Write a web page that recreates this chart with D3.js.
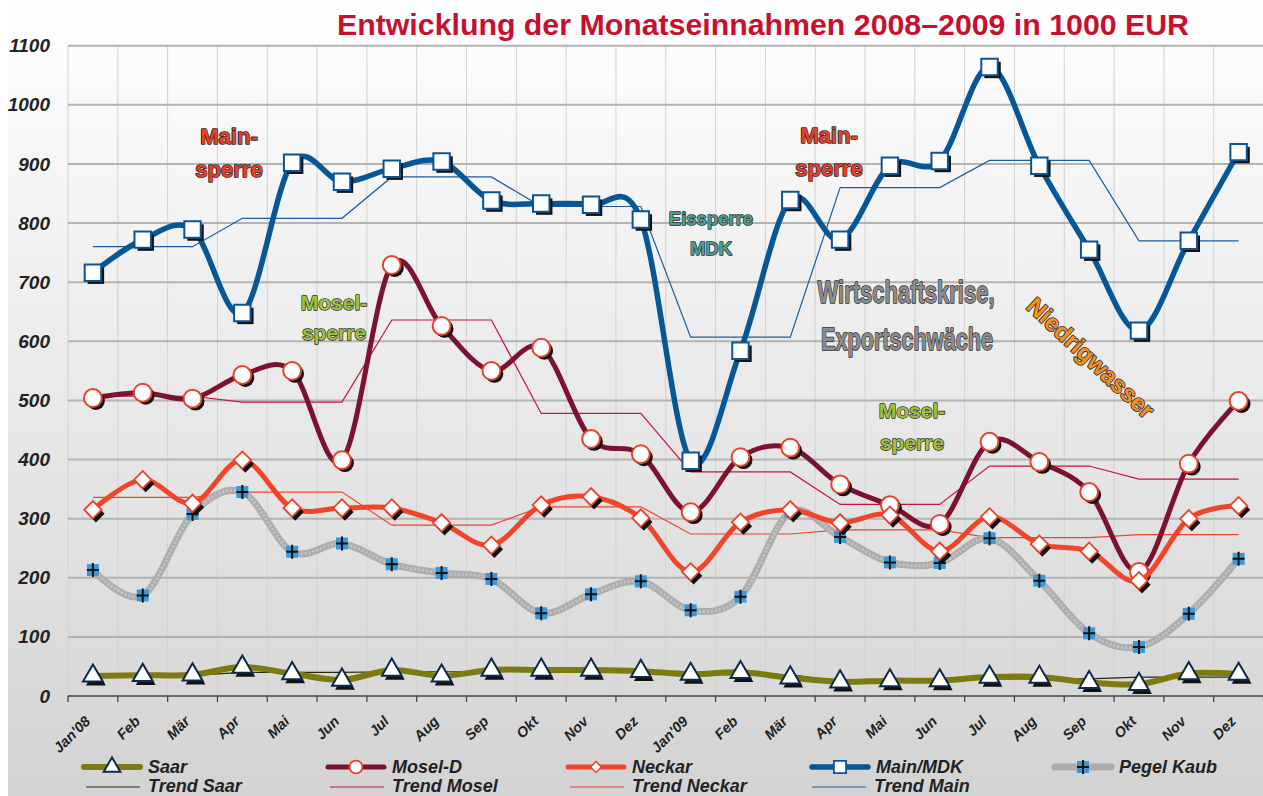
<!DOCTYPE html>
<html>
<head>
<meta charset="utf-8">
<script src="https://cdn.jsdelivr.net/npm/d3@7"></script>
<style>
html,body{margin:0;padding:0;background:#fff;}
svg{display:block;}
text{font-family:"Liberation Sans",Arial,sans-serif;}
</style>
</head>
<body>
<svg id="chart" width="1263" height="796"></svg>
<script>
// ---- data ----
const months = ["Jan'08","Feb","Mär","Apr","Mai","Jun","Jul","Aug","Sep","Okt","Nov","Dez",
                "Jan'09","Feb","Mär","Apr","Mai","Jun","Jul","Aug","Sep","Okt","Nov","Dez"];
const yTicks = [0,100,200,300,400,500,600,700,800,900,1000,1100];

const saar   = [34,35,36,49,38,27,44,34,44,44,44,42, 37,40,31,24,26,26,32,32,23,20,38,37];
const moselD = [504,513,503,543,550,399,729,626,550,589,435,409, 311,404,420,358,323,291,430,396,345,210,393,499];
const neckar = [315,366,326,399,318,318,318,293,255,323,337,301, 210,294,315,293,306,245,303,257,245,195,300,322];
const mainMDK= [716,772,789,648,902,870,892,904,838,833,831,806, 398,584,839,772,897,905,1064,897,755,618,770,920];
const pegelKaub=[213,170,308,345,244,258,223,208,198,140,172,194, 145,168,311,269,226,225,267,195,106,83,139,232];

const trendSaar   = [35,35,35,40,40,40,41,41,41,43,43,43, 36,36,36,25,25,25,29,29,29,32,32,32];
const trendMosel  = [507,507,507,497,497,497,636,636,636,478,478,478, 379,379,379,324,324,324,389,389,389,367,367,367];
const trendNeckar = [336,336,336,345,345,345,289,289,289,320,320,320, 274,274,274,281,281,281,268,268,268,273,273,273];
const trendMain   = [760,760,760,808,808,808,878,878,878,828,828,828, 607,607,607,860,860,860,906,906,906,770,770,770];

const titleText = "Entwicklung der Monatseinnahmen 2008–2009 in 1000 EUR";

// ---- setup ----
const svg = d3.select("#chart");
const W = 1263, H = 796;
const defs = svg.append("defs");
const bg = defs.append("linearGradient").attr("id","bg").attr("x1",0).attr("y1",0).attr("x2",0).attr("y2",1);
bg.append("stop").attr("offset","0%").attr("stop-color","#ffffff");
bg.append("stop").attr("offset","100%").attr("stop-color","#d3d3d3");
svg.append("rect").attr("width",W).attr("height",H).attr("fill","#ffffff");
svg.append("rect").attr("x",8).attr("y",0).attr("width",W-8).attr("height",H).attr("fill","url(#bg)");

const pLeft = 68, pRight = 1263.5, pTop = 45.7, pBottom = 696;
const x = d3.scaleBand().domain(d3.range(months.length)).range([pLeft,pRight]).padding(0);
const cx = i => x(i) + x.bandwidth()/2;
const y = d3.scaleLinear().domain([0,1100]).range([pBottom, pTop]);

// vertical grid
svg.append("g").selectAll("line").data(d3.range(months.length+1)).join("line")
  .attr("x1", i => pLeft + i*x.bandwidth()).attr("x2", i => pLeft + i*x.bandwidth())
  .attr("y1", pTop).attr("y2", pBottom)
  .attr("stroke","#d2d2d2").attr("stroke-width",1);
// horizontal grid
svg.append("g").selectAll("line").data(yTicks.filter(d=>d>0)).join("line")
  .attr("x1", pLeft).attr("x2", W).attr("y1", d=>y(d)).attr("y2", d=>y(d))
  .attr("stroke","#b3b3b3").attr("stroke-width",2);

// y axis
const yAxis = d3.axisLeft(y).tickValues(yTicks).tickFormat(d3.format("d")).tickSize(0).tickPadding(18);
const gy = svg.append("g").attr("transform",`translate(${pLeft},0)`).call(yAxis);
gy.select(".domain").remove();
gy.selectAll("text").attr("font-size",19).attr("font-weight","bold").attr("font-style","italic")
  .attr("fill","#222").attr("font-family","'Liberation Sans',Arial,sans-serif");

// x axis
svg.append("line").attr("x1",pLeft).attr("x2",W).attr("y1",pBottom).attr("y2",pBottom)
  .attr("stroke","#444").attr("stroke-width",1.5);
svg.append("g").selectAll("line").data(d3.range(months.length+1)).join("line")
  .attr("x1", i => pLeft + i*x.bandwidth()).attr("x2", i => pLeft + i*x.bandwidth())
  .attr("y1", pBottom).attr("y2", pBottom+6).attr("stroke","#444").attr("stroke-width",1.3);
svg.append("g").selectAll("text").data(months).join("text")
  .attr("transform",(d,i)=>`translate(${cx(i)-9},${pBottom+19}) rotate(-45)`)
  .attr("text-anchor","end").attr("dy","0.7em")
  .attr("font-size",14.5).attr("font-weight","bold").attr("font-style","italic").attr("fill","#222")
  .text(d=>d);

// title
svg.append("text").attr("x",763).attr("y",35).attr("text-anchor","middle")
  .attr("font-size",30.3).attr("font-weight","bold").attr("fill","#c8102e").text(titleText);

// ---- series ----
const lineSmooth = d3.line().x((d,i)=>cx(i)).y(d=>y(d)).curve(d3.curveCardinal.tension(0));
const lineLin = d3.line().x((d,i)=>cx(i)).y(d=>y(d));

function trend(data,color){
  svg.append("path").attr("d",lineLin(data)).attr("fill","none").attr("stroke",color).attr("stroke-width",1.2);
}
trend(trendSaar,"#2b2b06");
trend(trendMosel,"#c8143c");
trend(trendNeckar,"#f0452a");
trend(trendMain,"#1a5ea0");

const sym = {
  tri: d3.symbol().type(d3.symbolTriangle).size(170)(),
  circ: d3.symbol().type(d3.symbolCircle).size(250)(),
  dia: d3.symbol().type(d3.symbolSquare).size(150)(),
  sq: d3.symbol().type(d3.symbolSquare).size(270)()
};

function drawMarker(g, type, px, py){
  if(type==="tri"){
    g.append("path").attr("d",sym.tri).attr("transform",`translate(${px+3},${py+4})`).attr("fill","#111");
    g.append("path").attr("d",sym.tri).attr("transform",`translate(${px},${py})`).attr("fill","#fff").attr("stroke","#0d2a4a").attr("stroke-width",2);
  } else if(type==="circ"){
    g.append("path").attr("d",sym.circ).attr("transform",`translate(${px+3},${py+3})`).attr("fill","#111");
    g.append("path").attr("d",sym.circ).attr("transform",`translate(${px},${py})`).attr("fill","#fff").attr("stroke","#e8412c").attr("stroke-width",2);
  } else if(type==="dia"){
    g.append("path").attr("d",sym.dia).attr("transform",`translate(${px+3},${py+4}) rotate(45)`).attr("fill","#111");
    g.append("path").attr("d",sym.dia).attr("transform",`translate(${px},${py}) rotate(45)`).attr("fill","#fff").attr("stroke","#e8412c").attr("stroke-width",1.8);
  } else if(type==="sq"){
    g.append("path").attr("d",sym.sq).attr("transform",`translate(${px+3},${py+3})`).attr("fill","#111");
    g.append("path").attr("d",sym.sq).attr("transform",`translate(${px},${py})`).attr("fill","#fff").attr("stroke","#0b5394").attr("stroke-width",2);
  } else if(type==="plus"){
    g.append("rect").attr("x",px-6).attr("y",py-6).attr("width",12).attr("height",12).attr("fill","#3a9ad9");
    g.append("path").attr("d",`M${px-6},${py}H${px+6}M${px},${py-7}V${py+7}`).attr("stroke","#111").attr("stroke-width",2);
  }
}

function series(data,color,width,type,extra){
  const g = svg.append("g");
  g.append("path").attr("d",lineSmooth(data)).attr("fill","none").attr("stroke",color)
    .attr("stroke-width",width).attr("stroke-linecap","round").attr("stroke-linejoin","round");
  if(extra) extra(g);
  data.forEach((d,i)=>drawMarker(g,type,cx(i),y(d)));
}
series(pegelKaub,"#adadad",7,"plus",g=>{
  g.append("path").attr("d",lineSmooth(pegelKaub)).attr("fill","none").attr("stroke","#c4c4c4")
   .attr("stroke-width",3).attr("stroke-dasharray","2 2");
});
series(saar,"#7d7a10",6,"tri");
series(moselD,"#7a1230",5,"circ");
series(neckar,"#f0452a",5,"dia");
series(mainMDK,"#075796",5.5,"sq");

// ---- annotations ----
function ann(txt,px,py,fill,size,opts={}){
  const t = svg.append("text").attr("x",px).attr("y",py).attr("text-anchor","middle")
    .attr("font-size",size).attr("font-weight","bold").attr("fill",fill)
    .attr("stroke",opts.stroke||"#2a2a2a").attr("stroke-width",opts.sw||1.6)
    .attr("paint-order","stroke").attr("stroke-linejoin","round").text(txt);
  if(opts.len) t.attr("textLength",opts.len).attr("lengthAdjust","spacingAndGlyphs");
  if(opts.rot) t.attr("transform",`rotate(${opts.rot},${px},${py})`);
  return t;
}
ann("Main-",229,144,"#e8402a",22);
ann("sperre",229,177,"#e8402a",22);
ann("Main-",829,143,"#e8402a",22);
ann("sperre",829,176,"#e8402a",22);
ann("Eissperre",711,225,"#4f9c98",18.5,{sw:1.4});
ann("MDK",711,255,"#4f9c98",18.5,{sw:1.4});
ann("Mosel-",334,310,"#9dc43a",21,{sw:1.4});
ann("sperre",334,340,"#9dc43a",21,{sw:1.4});
ann("Mosel-",912,418,"#9dc43a",21,{sw:1.4});
ann("sperre",912,450,"#9dc43a",21,{sw:1.4});
ann("Wirtschaftskrise,",906,303,"#8c8c8c",31,{len:177,sw:1.6});
ann("Exportschwäche",907,350,"#8c8c8c",31,{len:172,sw:1.6});
ann("Niedrigwasser",1085,364,"#f5901e",24,{rot:43,sw:1.6});

// ---- legend ----
const lg = svg.append("g");
const legend1 = [
  {name:"Saar", color:"#7d7a10", w:6, type:"tri", x0:84},
  {name:"Mosel-D", color:"#7a1230", w:5, type:"circ", x0:328},
  {name:"Neckar", color:"#f0452a", w:5, type:"dia", x0:568},
  {name:"Main/MDK", color:"#075796", w:5.5, type:"sq", x0:812},
  {name:"Pegel Kaub", color:"#adadad", w:7, type:"plus", x0:1055}
];
const legend2 = [
  {name:"Trend Saar", color:"#2b2b06", x0:86},
  {name:"Trend Mosel", color:"#c8143c", x0:330},
  {name:"Trend Neckar", color:"#f0452a", x0:570},
  {name:"Trend Main", color:"#1a5ea0", x0:812}
];
legend1.forEach(l=>{
  lg.append("line").attr("x1",l.x0).attr("x2",l.x0+56).attr("y1",767).attr("y2",767)
    .attr("stroke",l.color).attr("stroke-width",l.w).attr("stroke-linecap","round");
  const g = lg.append("g");
  if(l.type==="plus"){ drawMarker(g,"plus",l.x0+28,767); }
  else if(l.type==="tri"){ g.append("path").attr("d",d3.symbol().type(d3.symbolTriangle).size(120)()).attr("transform",`translate(${l.x0+28},767)`).attr("fill","#fff").attr("stroke","#0d2a4a").attr("stroke-width",2); }
  else if(l.type==="circ"){ g.append("path").attr("d",d3.symbol().type(d3.symbolCircle).size(130)()).attr("transform",`translate(${l.x0+28},767)`).attr("fill","#fff").attr("stroke","#e8412c").attr("stroke-width",1.8); }
  else if(l.type==="dia"){ g.append("path").attr("d",d3.symbol().type(d3.symbolSquare).size(60)()).attr("transform",`translate(${l.x0+28},767) rotate(45)`).attr("fill","#fff").attr("stroke","#e8412c").attr("stroke-width",1.5); }
  else if(l.type==="sq"){ g.append("path").attr("d",d3.symbol().type(d3.symbolSquare).size(150)()).attr("transform",`translate(${l.x0+28},767)`).attr("fill","#fff").attr("stroke","#0b5394").attr("stroke-width",1.8); }
  lg.append("text").attr("x",l.x0+64).attr("y",773).attr("font-size",18).attr("font-weight","bold")
    .attr("font-style","italic").attr("fill","#222").text(l.name);
});
legend2.forEach(l=>{
  lg.append("line").attr("x1",l.x0).attr("x2",l.x0+54).attr("y1",787).attr("y2",787)
    .attr("stroke",l.color).attr("stroke-width",1.2);
  lg.append("text").attr("x",l.x0+62).attr("y",792).attr("font-size",18).attr("font-weight","bold")
    .attr("font-style","italic").attr("fill","#222").text(l.name);
});
</script>
</body>
</html>
